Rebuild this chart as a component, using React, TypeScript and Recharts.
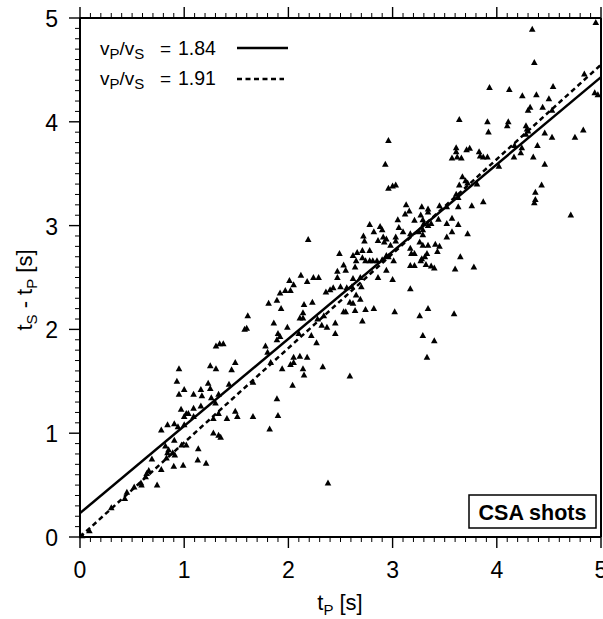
import React from "react";
import { ScatterChart, Scatter, XAxis, YAxis, ReferenceLine } from "recharts";

const FONT = "'Liberation Sans', Arial, Helvetica, sans-serif";

// CSA shots, [tP, tS - tP] in seconds, grouped by tP range
const shotsEarly = [
  [0.02, 0.01], [0.09, 0.06], [0.3, 0.28], [0.43, 0.37], [0.45, 0.43], [0.52, 0.48], [0.585, 0.52], [0.59, 0.5],
  [0.63, 0.58], [0.64, 0.61], [0.66, 0.64], [0.69, 0.75], [0.74, 0.5], [0.78, 0.65], [0.78, 1.03], [0.84, 1.08],
  [0.83, 0.76], [0.84, 0.81], [0.82, 0.875], [0.85, 0.84], [0.89, 0.81], [0.9, 0.68], [0.905, 0.93], [0.905, 1.09],
  [0.91, 0.79], [0.94, 1.06], [0.97, 1.23], [0.95, 1.375], [0.93, 1.5], [1.0, 1.42], [1.0, 1.16], [1.02, 1.19],
  [1.0, 1.08], [0.975, 0.885], [1.02, 0.885], [0.99, 0.69], [1.04, 1.19], [1.09, 1.24], [1.09, 1.375], [1.09, 1.16],
  [1.13, 0.74], [1.135, 0.85], [1.16, 1.42], [1.17, 1.36], [1.16, 1.26], [1.21, 0.71], [1.23, 1.48], [1.25, 1.43],
  [1.26, 1.34], [1.28, 1.14], [1.28, 1.0], [1.3, 1.29], [1.33, 1.375], [1.33, 0.98], [1.35, 0.96], [1.33, 1.19],
  [1.41, 1.14], [1.43, 1.47], [1.49, 1.21], [1.51, 1.16], [1.66, 1.16], [1.66, 1.49],
  [0.95, 1.62], [1.25, 1.65], [1.305, 1.62], [1.305, 1.84], [1.34, 1.86], [1.375, 1.86], [1.455, 1.61], [1.49, 1.68],
  [1.6, 2.01], [1.58, 2.0], [1.61, 2.13],
];

const shotsMid = [
  [2.19, 2.865], [2.49, 2.73], [2.47, 2.56], [2.47, 2.5], [2.12, 2.52], [2.18, 2.46], [2.24, 2.5], [2.29, 2.5],
  [2.01, 2.47], [2.05, 2.43], [1.97, 2.375], [2.02, 2.375], [1.92, 2.35], [1.89, 2.28], [1.81, 2.25], [1.93, 2.2],
  [2.15, 2.24], [2.23, 2.26], [2.14, 2.16], [2.11, 2.11], [2.14, 2.11], [2.36, 2.36], [2.4, 2.38], [2.43, 2.4],
  [2.28, 2.1], [2.34, 2.13], [2.32, 2.04], [2.37, 2.02], [2.45, 2.06], [2.45, 1.96], [2.22, 1.94], [2.27, 1.87],
  [2.33, 1.64], [2.1, 1.96], [1.99, 2.02], [1.86, 2.06], [1.9, 1.96], [1.92, 1.93], [1.89, 1.9], [1.78, 1.84],
  [1.8, 1.78], [1.83, 1.68], [1.94, 1.62], [2.05, 1.73], [2.02, 1.66], [2.05, 1.68], [2.11, 1.74], [2.18, 1.73],
  [2.14, 1.62], [2.15, 1.56], [2.04, 1.46], [1.89, 1.33], [1.9, 1.17], [1.82, 1.04], [2.38, 0.52],
];

const shotsLate = [
  [2.96, 3.36], [3.0, 3.38], [3.03, 3.39], [3.13, 3.2], [3.28, 3.18], [3.34, 3.16], [3.45, 3.19], [3.52, 3.18],
  [3.12, 3.11], [3.16, 3.14], [3.27, 3.1], [3.34, 3.13], [3.05, 3.055], [3.21, 3.05], [3.29, 3.055], [3.3, 3.02],
  [3.34, 3.0], [3.37, 3.02], [3.44, 3.06], [3.52, 3.02], [2.78, 3.01], [2.88, 2.99], [2.82, 2.94], [2.9, 2.96],
  [3.06, 2.98], [3.1, 2.94], [3.17, 2.92], [3.25, 2.94], [3.29, 2.96], [3.29, 2.91], [2.72, 2.9], [2.73, 2.85],
  [2.86, 2.855], [2.91, 2.89], [2.94, 2.87], [2.92, 2.84], [3.03, 2.89], [3.03, 2.85], [2.98, 2.81], [3.17, 2.78],
  [3.26, 2.84], [3.29, 2.81], [3.34, 2.81], [3.41, 2.82], [3.45, 2.8], [3.52, 2.89], [3.43, 2.75], [3.18, 2.73],
  [3.21, 2.73], [3.33, 2.73], [3.28, 2.68], [3.31, 2.7], [3.17, 2.615], [3.21, 2.615], [3.27, 2.66], [3.32, 2.625],
  [3.37, 2.61], [3.4, 2.59], [2.62, 2.71], [2.66, 2.74], [2.71, 2.76], [2.78, 2.76], [2.71, 2.69], [2.74, 2.66],
  [2.78, 2.66], [2.81, 2.66], [2.85, 2.66], [2.9, 2.67], [2.94, 2.71], [3.01, 2.66], [2.96, 2.7], [2.94, 2.57],
  [2.86, 2.5], [3.0, 2.48], [2.53, 2.62], [2.55, 2.57], [2.65, 2.66], [2.64, 2.6], [2.62, 2.49], [2.69, 2.5],
  [2.7, 2.41], [2.56, 2.4], [2.61, 2.41], [2.5, 2.41], [2.65, 2.33], [2.69, 2.29], [2.59, 2.26], [2.62, 2.25],
  [2.55, 2.17], [2.53, 2.17], [2.64, 2.18], [2.74, 2.19], [2.82, 2.2], [2.71, 2.08], [3.02, 2.17], [3.17, 2.39],
  [3.34, 2.2], [3.26, 2.13], [3.29, 1.94], [3.4, 1.89], [3.33, 1.73], [2.59, 1.55], [2.96, 3.82], [2.93, 3.59],
];

const shotsFar = [
  [4.34, 4.89], [4.95, 4.955], [4.36, 4.57], [3.93, 4.33], [4.12, 4.31], [4.245, 4.25], [4.38, 4.26], [4.54, 4.34],
  [4.5, 4.22], [4.84, 4.46], [4.94, 4.28], [4.97, 4.26], [4.44, 4.14], [4.53, 4.11], [4.32, 4.14], [4.3, 4.11],
  [3.64, 4.02], [3.91, 4.0], [4.11, 4.0], [4.1, 3.96], [3.92, 3.9], [4.28, 3.96], [4.29, 3.93], [4.3, 3.91],
  [4.28, 3.88], [4.46, 3.89], [4.53, 3.85], [4.75, 3.85], [4.83, 3.92], [4.17, 3.77], [4.24, 3.75], [4.39, 3.77],
  [4.23, 3.7], [4.165, 3.66], [4.35, 3.66], [4.46, 3.59], [4.02, 3.57], [3.61, 3.75], [3.61, 3.71], [3.57, 3.65],
  [3.62, 3.66], [3.66, 3.65], [3.71, 3.73], [3.74, 3.745], [3.83, 3.71], [3.84, 3.67], [3.87, 3.66], [3.91, 3.66],
  [4.43, 3.39], [4.37, 3.32], [4.37, 3.25], [4.36, 3.22], [4.71, 3.1], [3.67, 3.47], [3.64, 3.39], [3.7, 3.43],
  [3.72, 3.41], [3.81, 3.4], [3.61, 3.3], [3.63, 3.27], [3.76, 3.19], [3.87, 3.23], [3.63, 3.18], [3.72, 2.92],
  [3.65, 2.7], [3.78, 2.6], [3.6, 2.58], [3.59, 2.15], [3.57, 3.07], [3.63, 3.01], [3.57, 2.94],
];

// fitted lines: tS - tP = (vP/vS - 1) * tP + intercept
const fits = [
  { ratio: 1.84, intercept: 0.23, dash: undefined as string | undefined },
  { ratio: 1.91, intercept: 0.0, dash: "5 3.5" },
];

const T_MIN = 0;
const T_MAX = 5;
const axisTicks = Array.from({ length: 51 }, (_, i) => i / 10);

const shots = [...shotsEarly, ...shotsMid, ...shotsLate, ...shotsFar].map(([tp, dt]) => ({ tp, dt }));

const isMajor = (v: number) => Math.abs(v - Math.round(v)) < 1e-6;

const Triangle = (p: any) => (
  <path d={`M${p.cx},${p.cy - 3.6}L${p.cx + 3.3},${p.cy + 2.4}L${p.cx - 3.3},${p.cy + 2.4}Z`} fill="#000" />
);

const Nothing = () => <g />;

const BottomTick = (props: any) => {
  const { x, y, payload } = props;
  const major = isMajor(payload.value);
  return (
    <g>
      <line x1={x} y1={y} x2={x} y2={y + (major ? 11 : 5)} stroke="#000" strokeWidth={major ? 1.4 : 1} />
      {major && (
        <text x={x} y={y + 41} textAnchor="middle" fontSize={23} fontFamily={FONT} fill="#000">
          {payload.value}
        </text>
      )}
    </g>
  );
};

const TopTick = (props: any) => {
  const { x, y, payload } = props;
  const major = isMajor(payload.value);
  return <line x1={x} y1={y} x2={x} y2={y - (major ? 11 : 5)} stroke="#000" strokeWidth={major ? 1.4 : 1} />;
};

const LeftTick = (props: any) => {
  const { x, y, payload } = props;
  const major = isMajor(payload.value);
  return (
    <g>
      <line x1={x} y1={y} x2={x - (major ? 11 : 5)} y2={y} stroke="#000" strokeWidth={major ? 1.4 : 1} />
      {major && (
        <text x={x - 22} y={y + 9} textAnchor="end" fontSize={23} fontFamily={FONT} fill="#000">
          {payload.value}
        </text>
      )}
    </g>
  );
};

export default function App() {
  return (
    <div style={{ position: "absolute", left: 0, top: 0, width: 603, height: 619, background: "#fff" }}>
      <ScatterChart width={603} height={619} margin={{ top: 17, right: 2, bottom: 0, left: 0 }}>
        <XAxis xAxisId="b" type="number" dataKey="tp" domain={[T_MIN, T_MAX]} ticks={axisTicks} interval={0}
          height={82} tickSize={0} tickMargin={0} tickLine={false} axisLine={{ stroke: "#000", strokeWidth: 2 }}
          tick={<BottomTick />} />
        <XAxis xAxisId="t" orientation="top" type="number" dataKey="tp" domain={[T_MIN, T_MAX]} ticks={axisTicks}
          interval={0} height={1} tickSize={0} tickMargin={0} tickLine={false}
          axisLine={{ stroke: "#000", strokeWidth: 2 }} tick={<TopTick />} />
        <YAxis yAxisId="l" type="number" dataKey="dt" domain={[T_MIN, T_MAX]} ticks={axisTicks} interval={0}
          width={80} tickSize={0} tickMargin={0} tickLine={false} axisLine={{ stroke: "#000", strokeWidth: 2 }}
          tick={<LeftTick />} />
        <ReferenceLine xAxisId="b" yAxisId="l" x={T_MAX} stroke="#000" strokeWidth={2} />
        {fits.map((f) => (
          <ReferenceLine key={f.ratio} xAxisId="b" yAxisId="l"
            segment={[{ x: T_MIN, y: f.intercept + (f.ratio - 1) * T_MIN }, { x: T_MAX, y: f.intercept + (f.ratio - 1) * T_MAX }]}
            stroke="#000" strokeWidth={2.5} strokeDasharray={f.dash} />
        ))}
        <Scatter xAxisId="b" yAxisId="l" data={shots} shape={<Triangle />} fill="#000" isAnimationActive={false} />
        <Scatter xAxisId="t" yAxisId="l" data={shots} shape={<Nothing />} fill="none" isAnimationActive={false} />
      </ScatterChart>
      <svg width={603} height={619} style={{ position: "absolute", left: 0, top: 0, pointerEvents: "none" }}
        fontFamily={FONT} fill="#000">
        <text x={340} y={610} textAnchor="middle" fontSize={22}>
          t<tspan fontSize={15} dy={5}>P</tspan><tspan dy={-5}> [s]</tspan>
        </text>
        <text transform="translate(32,290) rotate(-90)" textAnchor="middle" fontSize={22}>
          t<tspan fontSize={15} dy={5}>S</tspan><tspan dy={-5}> - t</tspan><tspan fontSize={15} dy={5}>P</tspan>
          <tspan dy={-5}> [s]</tspan>
        </text>
        {fits.map((f, i) => (
          <g key={f.ratio}>
            <text x={100} y={55 + i * 30} fontSize={19}>
              v<tspan fontSize={15} dy={4}>P</tspan><tspan dy={-4}>/v</tspan><tspan fontSize={15} dy={4}>S</tspan>
            </text>
            <text x={160} y={55 + i * 30} fontSize={19}>=</text>
            <text x={178} y={55 + i * 30} fontSize={19.5}>{f.ratio.toFixed(2)}</text>
            <line x1={237} x2={i === 0 ? 288 : 284} y1={48 + i * 31} y2={48 + i * 31} stroke="#000" strokeWidth={2.5}
              strokeDasharray={f.dash} />
          </g>
        ))}
        <rect x={469} y={495} width={127} height={33} fill="#fff" stroke="#000" strokeWidth={1.5} />
        <text x={532.5} y={520} textAnchor="middle" fontSize={21.5} fontWeight="bold">CSA shots</text>
      </svg>
    </div>
  );
}
